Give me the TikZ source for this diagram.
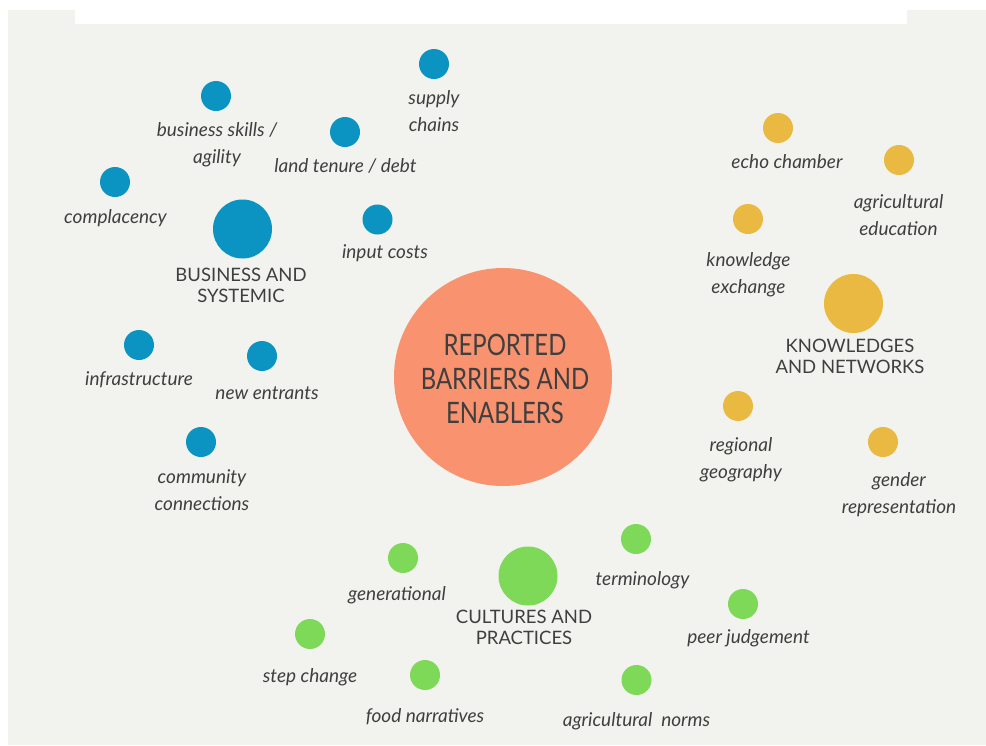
\documentclass[tikz,border=0pt]{standalone}
\usepackage{fontspec}
\setmainfont{Lato}
\newfontfamily\corefont[FakeStretch=0.81]{Lato}
\definecolor{bgc}{HTML}{F2F2EE}
\definecolor{txt}{HTML}{3F3F3F}
\definecolor{cblue}{HTML}{0B93C1}
\definecolor{cyellow}{HTML}{E9B942}
\definecolor{cgreen}{HTML}{7DD957}
\definecolor{corange}{HTML}{F9926E}
\begin{document}
\begin{tikzpicture}[x=1pt,y=-1pt,
  dot/.style={circle, inner sep=0pt, minimum size=30pt, draw=none},
  bigdot/.style={circle, inner sep=0pt, minimum size=59pt, draw=none},
  lbl/.style={font=\fontsize{19}{26.8}\selectfont\itshape, text=txt, align=center, inner sep=0pt, anchor=base},
  head/.style={font=\fontsize{18.5}{20.8}\selectfont, text=txt, align=center, inner sep=0pt, anchor=base},
  core/.style={font=\corefont\fontsize{29.5}{34}\selectfont, text=txt, align=center, inner sep=0pt, anchor=base}]
\useasboundingbox (0,0) rectangle (986,745);
\fill[white] (0,0) rectangle (986,745);
\fill[bgc] (8,10) rectangle (986,745);
\fill[white] (75,0) rectangle (907,24);
% centre
\node[circle, fill=corange, minimum size=218pt, inner sep=0pt] (core) at (503,377) {};
\node[core] (coret) at (505,423) {REPORTED\\BARRIERS AND\\ENABLERS};
% business and systemic
\node[bigdot, fill=cblue] (bs) at (242.5,229) {};
\node[head] (bst) at (241,302) {BUSINESS AND\\SYSTEMIC};
\node[dot, fill=cblue] (b1) at (216,96) {};
\node[lbl] (b1t) at (217,163) {business skills /\\agility};
\node[dot, fill=cblue] (b2) at (434,64) {};
\node[lbl] (b2t) at (434,131) {supply\\chains};
\node[dot, fill=cblue] (b3) at (345,132) {};
\node[lbl] (b3t) at (345.5,172) {land tenure / debt};
\node[dot, fill=cblue] (b4) at (115,182) {};
\node[lbl] (b4t) at (115.5,223) {complacency};
\node[dot, fill=cblue] (b5) at (377.5,219.5) {};
\node[lbl] (b5t) at (385,258) {input costs};
\node[dot, fill=cblue] (b6) at (139,345) {};
\node[lbl] (b6t) at (139,385) {infrastructure};
\node[dot, fill=cblue] (b7) at (262,356) {};
\node[lbl] (b7t) at (267,399) {new entrants};
\node[dot, fill=cblue] (b8) at (201,442) {};
\node[lbl] (b8t) at (202,510) {community\\connections};
% knowledges and networks
\node[bigdot, fill=cyellow] (kn) at (853.5,303.5) {};
\node[head] (knt) at (850,373) {KNOWLEDGES\\AND NETWORKS};
\node[dot, fill=cyellow] (k1) at (778,128) {};
\node[lbl] (k1t) at (787,168) {echo chamber};
\node[dot, fill=cyellow] (k2) at (899,160) {};
\node[lbl] (k2t) at (898.5,235) {agricultural\\education};
\node[dot, fill=cyellow] (k3) at (748,219) {};
\node[lbl] (k3t) at (748.5,293) {knowledge\\exchange};
\node[dot, fill=cyellow] (k4) at (738,406) {};
\node[lbl] (k4t) at (741,478) {regional\\geography};
\node[dot, fill=cyellow] (k5) at (883,442) {};
\node[lbl] (k5t) at (899,513) {gender\\representation};
% cultures and practices
\node[bigdot, fill=cgreen] (cp) at (528,576) {};
\node[head] (cpt) at (524,644) {CULTURES AND\\PRACTICES};
\node[dot, fill=cgreen] (c1) at (403,558) {};
\node[lbl] (c1t) at (397,600) {generational};
\node[dot, fill=cgreen] (c2) at (636,539) {};
\node[lbl] (c2t) at (642.5,585) {terminology};
\node[dot, fill=cgreen] (c3) at (310,634) {};
\node[lbl] (c3t) at (310,682) {step change};
\node[dot, fill=cgreen] (c4) at (743,604) {};
\node[lbl] (c4t) at (748.5,643) {peer judgement};
\node[dot, fill=cgreen] (c5) at (425,675) {};
\node[lbl] (c5t) at (425,722) {food narratives};
\node[dot, fill=cgreen] (c6) at (636.5,680) {};
\node[lbl] (c6t) at (636.5,726) {agricultural\ \ norms};
\end{tikzpicture}
\end{document}
